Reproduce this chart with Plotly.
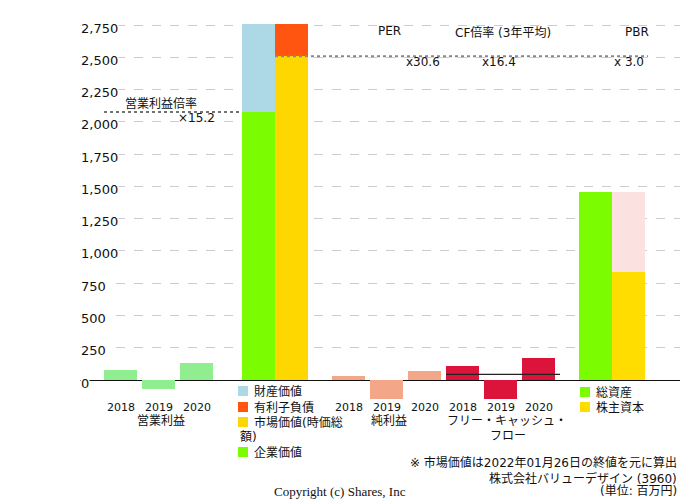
import plotly.graph_objects as go

# ---------------- data ----------------
years = ["2018", "2019", "2020"]
op_profit = [75, -68, 134]            # 営業利益
net_income = [30, -150, 71]           # 純利益
free_cf = [108, -145, 170]            # フリー・キャッシュ・フロー
enterprise_value = 2077               # 企業価値
property_value = 678                  # 財産価値
market_value = 2508                   # 市場価値(時価総額)
debt = 247                            # 有利子負債
total_assets = 1457                   # 総資産
equity = 838                          # 株主資本
y_ticks = [0, 250, 500, 750, 1000, 1250, 1500, 1750, 2000, 2250, 2500, 2750]
multiple_labels = {"op": "×15.2", "per": "x30.6", "cf": "x16.4", "pbr": "x 3.0"}

# ---------------- layout helpers ----------------
W, H = 680, 500
PX_PER_UNIT = 355 / 2750
Y0 = 380                      # pixel of value 0
BW = 33
op_x = [120.5, 158.5, 196.5]
ev_x = [258.5, 291.5]
ni_x = [348.5, 386.5, 424.5]
fcf_x = [462.5, 500.5, 538.5]
pbr_x = [595.5, 628.5]

def py(p):
    """pixel y -> paper coordinate"""
    return 1 - p / H

FONT = "DejaVu Sans, Noto Sans CJK JP, sans-serif"

fig = go.Figure()

def bar(x, y, color):
    fig.add_trace(go.Bar(x=x, y=y, width=BW, marker=dict(color=color, line=dict(width=0)),
                         showlegend=False, hoverinfo="skip"))

bar(op_x, op_profit, "#90EE90")
bar([ev_x[0]], [enterprise_value], "#7CFC00")
bar([ev_x[0]], [property_value], "#ADD8E6")
bar([ev_x[1]], [market_value], "#FFD700")
bar([ev_x[1]], [debt], "#FF5511")
bar(ni_x, net_income, "#F4A688")
bar(fcf_x, free_cf, "#DC143C")
bar([pbr_x[0]], [total_assets], "#7CFC00")
bar([pbr_x[1]], [equity], "#FFDD00")
bar([pbr_x[1]], [total_assets - equity], "#FBE2E0")

# multiple reference lines
fig.add_trace(go.Scatter(x=[104, ev_x[0] - BW / 2], y=[enterprise_value] * 2, mode="lines",
                         line=dict(color="#444444", width=1.5, dash="dot"),
                         showlegend=False, hoverinfo="skip"))
fig.add_trace(go.Scatter(x=[ev_x[1] - BW / 2, 648], y=[market_value] * 2, mode="lines",
                         line=dict(color="#888888", width=2, dash="dot"),
                         showlegend=False, hoverinfo="skip"))
fcf_avg = sum(free_cf) / len(free_cf)
fig.add_trace(go.Scatter(x=[fcf_x[0] - BW / 2, 560], y=[fcf_avg] * 2, mode="lines",
                         line=dict(color="#222222", width=1.2),
                         showlegend=False, hoverinfo="skip"))

ann = []
# y tick labels (white background masks grid lines)
for v in y_ticks:
    ann.append(dict(x=80, y=v, xref="x", yref="y", text=f"{v:,}", showarrow=False,
                    xanchor="left", yanchor="middle", yshift=-3, bgcolor="white",
                    borderpad=0, font=dict(size=13, color="#111111", family=FONT)))

def text(x, y, s, size=12, xanchor="center", xref="x", family=FONT):
    ann.append(dict(x=x, y=py(y), xref=xref, yref="paper", text=s, showarrow=False,
                    xanchor=xanchor, yanchor="middle",
                    font=dict(size=size, color="#111111", family=family)))

# x labels
for xs in (op_x, ni_x, fcf_x):
    for x, yr in zip(xs, years):
        text(x, 407, yr, size=11)
text(161, 421, "営業利益")
text(389, 421, "純利益")
text(507, 421, "フリー・キャッシュ・")
text(508, 436, "フロー")

# multiple labels
text(161, 104, "営業利益倍率")
text(196, 118, multiple_labels["op"])
text(389, 31, "PER")
text(423, 62, multiple_labels["per"])
text(503, 32, "CF倍率 (3年平均)")
text(499, 62, multiple_labels["cf"])
text(637, 32, "PBR")
text(629, 62, multiple_labels["pbr"])

# manual legends
shapes = []
def legend_item(x, y, color, label):
    shapes.append(dict(type="rect", xref="x", yref="paper", x0=x, x1=x + 10,
                       y0=py(y + 5), y1=py(y - 5), fillcolor=color, line=dict(width=0)))
    text(x + 14, y, label, xanchor="left")

legend_item(238, 391, "#ADD8E6", "財産価値")
legend_item(238, 407, "#FF5511", "有利子負債")
legend_item(238, 422, "#FFD700", "市場価値(時価総")
text(238, 437, "額)", xanchor="left")
legend_item(238, 452, "#7CFC00", "企業価値")
legend_item(580, 392, "#7CFC00", "総資産")
legend_item(580, 407, "#FFDD00", "株主資本")

# footnotes
text(679, 462, "※ 市場価値は2022年01月26日の終値を元に算出", xanchor="right")
text(679, 478, "株式会社バリューデザイン (3960)", xanchor="right")
text(679, 491, "(単位: 百万円)", xanchor="right")
text(340, 491, "Copyright (c) Shares, Inc", size=13, family="Liberation Serif, Times New Roman, serif")

fig.update_layout(
    width=W, height=H, autosize=False,
    margin=dict(l=0, r=0, t=0, b=0),
    paper_bgcolor="white", plot_bgcolor="white",
    barmode="relative", bargap=0,
    showlegend=False,
    xaxis=dict(range=[80, W], domain=[80 / W, 1], visible=False, fixedrange=True),
    yaxis=dict(range=[-(H - Y0) / PX_PER_UNIT, Y0 / PX_PER_UNIT], domain=[0, 1],
               tickvals=y_ticks, showticklabels=False, showgrid=True,
               gridcolor="#cccccc", griddash="dash", gridwidth=1,
               zeroline=True, zerolinecolor="#111111", zerolinewidth=1,
               showline=False, ticks="", fixedrange=True),
    annotations=ann, shapes=shapes,
    font=dict(family=FONT),
)

fig.write_html("out.html", config={"displayModeBar": False, "staticPlot": True},
               post_script="document.body.style.margin='0';document.body.style.overflow='hidden';")
